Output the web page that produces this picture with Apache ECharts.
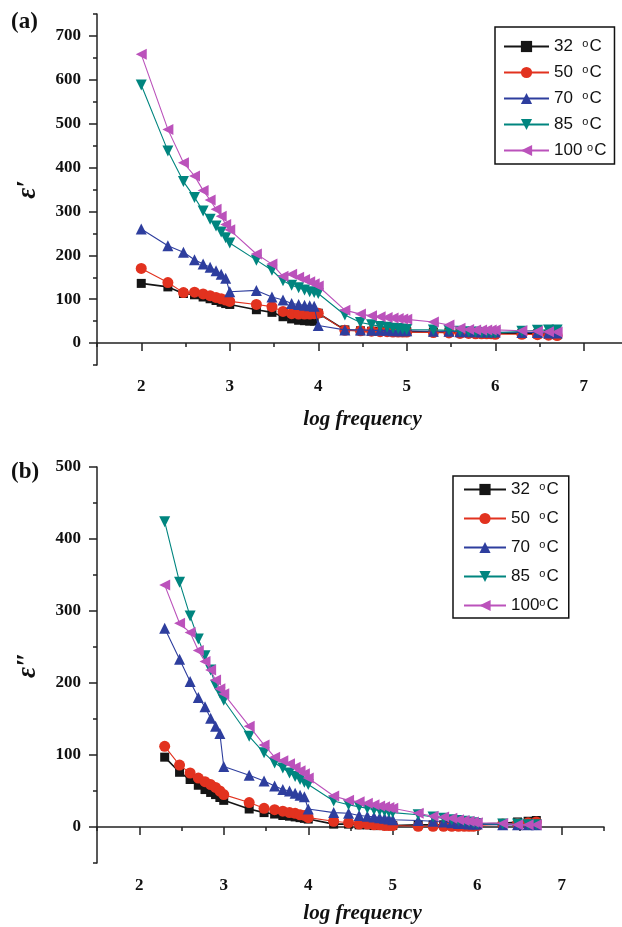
<!DOCTYPE html>
<html>
<head>
<meta charset="utf-8">
<script src="https://cdn.jsdelivr.net/npm/echarts@6/dist/echarts.min.js"></script>
<style>
html, body { margin: 0; padding: 0; background: #fff; }
#chart { width: 622px; height: 927px; }
</style>
</head>
<body>
<div id="chart"></div>
<script>
// log10 of the measuring frequency (Hz)
var logFreq = [2, 2.301, 2.477, 2.602, 2.699, 2.778, 2.845, 2.903, 2.954, 3,
    3.301, 3.477, 3.602, 3.699, 3.778, 3.845, 3.903, 3.954, 4,
    4.301, 4.477, 4.602, 4.699, 4.778, 4.845, 4.903, 4.954, 5,
    5.301, 5.477, 5.602, 5.699, 5.778, 5.845, 5.903, 5.954, 6,
    6.301, 6.477, 6.602, 6.699];
// panel (b) starts at 200 Hz
var logFreqB = logFreq.slice(1);

var temps = ['32', '50', '70', '85', '100'];

// (a) real part
var eps1_32 = [136, 128, 113, 110, 105, 101, 97, 93, 90, 88, 76, 70, 60, 55, 52, 51, 50, 50, 68, 30, 28, 27, 27, 27, 26, 26, 26, 26, 25, 25, 24, 24, 24, 24, 24, 24, 23, 22, 21, 20, 19];
var eps1_50 = [170, 138, 115, 116, 112, 108, 104, 101, 98, 95, 88, 83, 72, 67, 66, 66, 66, 67, 68, 29, 28, 27, 26, 26, 25, 25, 25, 25, 24, 23, 22, 22, 21, 21, 21, 21, 20, 20, 19, 18, 17];
var eps1_70 = [260, 222, 207, 190, 180, 173, 165, 157, 148, 117, 120, 105, 98, 90, 88, 86, 85, 84, 40, 30, 30, 29, 29, 29, 28, 28, 28, 28, 27, 27, 26, 26, 26, 25, 25, 25, 25, 24, 24, 23, 23];
var eps1_85 = [588, 438, 368, 332, 301, 282, 267, 253, 240, 228, 189, 166, 142, 132, 126, 121, 117, 115, 113, 64, 47, 42, 38, 36, 34, 33, 32, 31, 30, 29, 27, 26, 25, 24, 24, 23, 23, 27, 29, 30, 30];
var eps1_100 = [658, 487, 411, 381, 348, 326, 305, 289, 270, 258, 203, 180, 152, 157, 150, 145, 140, 135, 130, 75, 66, 62, 60, 58, 57, 56, 55, 54, 48, 41, 34, 31, 30, 30, 30, 30, 30, 28, 27, 26, 25];

// (b) imaginary part
var eps2_32 = [97, 76, 66, 58, 52, 48, 45, 41, 37, 25, 20, 18, 16, 15, 14, 13, 12, 11, 4, 4, 3, 3, 2, 2, 2, 2, 2, 3, 3, 3, 3, 3, 3, 3, 3, 4, 5, 7, 8, 9];
var eps2_50 = [112, 86, 75, 68, 63, 59, 55, 50, 45, 34, 26, 24, 22, 20, 19, 17, 16, 13, 8, 6, 4, 4, 3, 3, 2, 2, 2, 1, 1, 1, 1, 1, 1, 1, 1, 2, 4, 5, 6, 7];
var eps2_70 = [276, 233, 202, 180, 167, 151, 140, 130, 84, 72, 64, 57, 52, 50, 47, 44, 42, 25, 20, 19, 16, 15, 14, 13, 12, 11, 10, 9, 8, 7, 6, 5, 5, 4, 4, 4, 3, 3, 3, 3];
var eps2_85 = [424, 340, 293, 261, 238, 218, 197, 186, 176, 126, 103, 89, 82, 75, 70, 66, 62, 59, 36, 31, 28, 26, 24, 23, 22, 21, 20, 17, 14, 12, 10, 9, 8, 7, 6, 5, 4, 4, 3, 3];
var eps2_100 = [336, 283, 270, 245, 230, 218, 204, 192, 185, 140, 114, 97, 92, 88, 83, 78, 74, 68, 43, 37, 35, 33, 31, 29, 28, 27, 26, 19, 15, 14, 12, 10, 9, 8, 7, 6, 5, 3, 3, 3];

// tick positions
var xTicks = [2, 3, 4, 5, 6, 7];
var xMinorTicks = [1.5, 2.5, 3.5, 4.5, 5.5, 6.5, 7.5];
var yTicksA = [0, 100, 200, 300, 400, 500, 600, 700];
var yMinorTicksA = [-50, 50, 150, 250, 350, 450, 550, 650, 750];
var yTicksB = [0, 100, 200, 300, 400, 500];
var yMinorTicksB = [-50, 50, 150, 250, 350, 450];

// legend labels ("number  °C"), spaced like the original boxes
var legendTextA = {'32': '32  ', '50': '50  ', '70': '70  ', '85': '85  ', '100': '100 '};
var legendTextB = {'32': '32  ', '50': '50  ', '70': '70  ', '85': '85  ', '100': '100'};

var styles = [
    {symbol: 'rect', size: 9, rotate: 0, color: '#151515', width: 1.6},
    {symbol: 'circle', size: 11, rotate: 0, color: '#e2321f', width: 1.1},
    {symbol: 'triangle', size: 11, rotate: 0, color: '#2e3e9e', width: 1.1},
    {symbol: 'triangle', size: 11, rotate: 180, color: '#00857f', width: 1.1},
    {symbol: 'triangle', size: 11, rotate: 90, color: '#bb52bb', width: 1.1}
];

function pairs(xs, ys) {
    var out = [];
    for (var i = 0; i < ys.length; i++) {
        out.push([xs[i], ys[i]]);
    }
    return out;
}

function makeSeries(idx, xs, ys, k) {
    var s = styles[k];
    return {
        name: temps[k],
        type: 'line',
        xAxisIndex: idx,
        yAxisIndex: idx,
        data: pairs(xs, ys),
        symbol: s.symbol,
        symbolSize: s.size,
        symbolRotate: s.rotate,
        color: s.color,
        lineStyle: {color: s.color, width: s.width},
        itemStyle: {color: s.color},
        emphasis: {disabled: true},
        animation: false,
        z: 2 + k
    };
}

var serif = '"Liberation Serif", "Times New Roman", serif';
var sans = '"Liberation Sans", Arial, sans-serif';
var axisColor = '#222';

function mainX(grid, margin, nameGap, namePad) {
    return {
        type: 'value', gridIndex: grid, position: 'bottom',
        min: 1.5, max: 7.5, interval: 0.5,
        name: 'log frequency', nameLocation: 'middle', nameGap: nameGap,
        nameTextStyle: {fontFamily: serif, fontWeight: 'bold', fontStyle: 'italic', fontSize: 21, color: '#111', padding: namePad},
        axisLine: {lineStyle: {color: axisColor, width: 1.5}},
        axisTick: {inside: false, length: 8, lineStyle: {color: axisColor, width: 1.5}, customValues: xTicks},
        axisLabel: {margin: margin, fontFamily: serif, fontWeight: 'bold', fontSize: 17, color: '#111', customValues: xTicks,
            formatter: function (v) { return v % 1 === 0 ? String(v) : ''; }},
        splitLine: {show: false}
    };
}

function minorX(grid) {
    return {
        type: 'value', gridIndex: grid, position: 'bottom',
        min: 1.5, max: 7.5, interval: 0.5,
        axisLine: {show: false},
        axisTick: {inside: false, length: 4, lineStyle: {color: axisColor, width: 1.5}, customValues: xMinorTicks},
        axisLabel: {show: false},
        splitLine: {show: false}
    };
}

function mainY(grid, max, ticks, name) {
    return {
        type: 'value', gridIndex: grid, position: 'left',
        min: -50, max: max, interval: 50,
        name: name, nameLocation: 'middle', nameGap: 55, nameRotate: 90,
        nameTextStyle: {fontFamily: serif, fontWeight: 'bold', fontStyle: 'italic', fontSize: 27, color: '#111'},
        axisLine: {lineStyle: {color: axisColor, width: 1.5}},
        axisTick: {inside: false, length: 8, lineStyle: {color: axisColor, width: 1.5}, customValues: ticks},
        axisLabel: {margin: 16, fontFamily: serif, fontWeight: 'bold', fontSize: 17, color: '#111', customValues: ticks,
            formatter: function (v) { return v % 100 === 0 && v >= 0 ? String(v) : ''; }},
        splitLine: {show: false}
    };
}

function minorY(grid, max, ticks) {
    return {
        type: 'value', gridIndex: grid, position: 'left',
        min: -50, max: max, interval: 50,
        axisLine: {show: false},
        axisTick: {inside: false, length: 4, lineStyle: {color: axisColor, width: 1.5}, customValues: ticks},
        axisLabel: {show: false},
        splitLine: {show: false}
    };
}

function legendBox(top, left, gap, itemWidth, labels, pad) {
    return {
        orient: 'vertical',
        left: left, top: top,
        data: temps,
        itemWidth: itemWidth, itemHeight: 14, itemGap: gap,
        padding: pad,
        borderColor: '#111', borderWidth: 1.5,
        backgroundColor: '#fff',
        selectedMode: false,
        formatter: function (name) {
            return '{n|' + labels[name] + '}{s|o}{c|C}';
        },
        textStyle: {
            fontFamily: sans, fontSize: 17, color: '#111',
            rich: {
                n: {fontFamily: sans, fontSize: 17, color: '#111'},
                s: {fontFamily: sans, fontSize: 11, color: '#111', verticalAlign: 'top', padding: [0, 1, 6, 0]},
                c: {fontFamily: sans, fontSize: 17, color: '#111'}
            }
        }
    };
}

var series = [];
var topSets = [eps1_32, eps1_50, eps1_70, eps1_85, eps1_100];
var botSets = [eps2_32, eps2_50, eps2_70, eps2_85, eps2_100];
for (var k = 0; k < temps.length; k++) {
    series.push(makeSeries(0, logFreq, topSets[k], k));
}
for (var k = 0; k < temps.length; k++) {
    series.push(makeSeries(2, logFreqB, botSets[k], k));
}

var option = {
    backgroundColor: '#fff',
    animation: false,
    grid: [
        {left: 97, top: 14, width: 531, height: 351, outerBoundsMode: 'none', containLabel: false},
        {left: 97, top: 467, width: 507, height: 396, outerBoundsMode: 'none', containLabel: false}
    ],
    xAxis: [mainX(0, 13, 44, [0, 0, 0, 0]), minorX(0), mainX(1, 14, 40, [0, 0, 0, 24]), minorX(1)],
    yAxis: [mainY(0, 750, yTicksA, 'ε\u2032'), minorY(0, 750, yMinorTicksA), mainY(1, 500, yTicksB, 'ε\u2033'), minorY(1, 500, yMinorTicksB)],
    legend: [
        legendBox(27, 495, 9, 45, legendTextA, [11, 8, 5, 8]),
        legendBox(476, 453, 12, 42, legendTextB, [5, 10, 4, 10])
    ],
    graphic: [
        {type: 'text', left: 11, top: 11, style: {text: '(a)', font: 'bold 23px ' + serif, fill: '#111'}},
        {type: 'text', left: 11, top: 461, style: {text: '(b)', font: 'bold 23px ' + serif, fill: '#111'}}
    ],
    series: series
};

var chart = echarts.init(document.getElementById('chart'), null, {renderer: 'canvas'});
chart.setOption(option);
</script>
</body>
</html>
